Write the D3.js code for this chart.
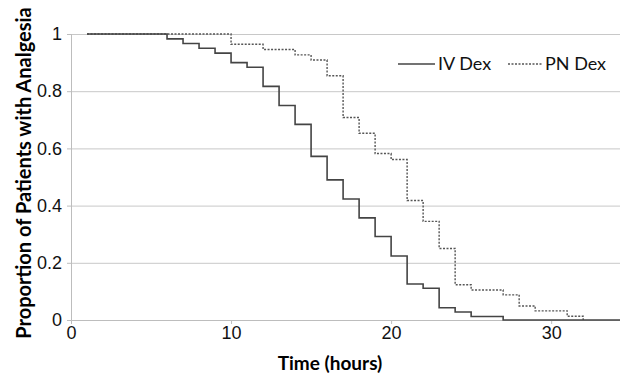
<!DOCTYPE html>
<html>
<head>
<meta charset="utf-8">
<script src="https://cdn.jsdelivr.net/npm/d3@7"></script>
<style>
  body { margin: 0; background: #fff; }
  svg { font-family: Lato, "Open Sans", sans-serif; }
  .grid line { stroke: #c8c8c8; }
  .grid path { display: none; }
  .axis path, .axis line { stroke: #bdbdbd; }
  .axis text { font-size: 18px; fill: #111; }
</style>
</head>
<body>
<div id="chart"></div>
<script>
// Kaplan-Meier style step data
var ivTimes = [1, 6, 7, 8, 9, 10, 11, 12, 13, 14, 15, 16, 17, 18, 19, 20, 21, 22, 23, 24, 25, 27, 34.3];
var ivValues = [1, 0.983, 0.967, 0.95, 0.933, 0.9, 0.884, 0.817, 0.75, 0.684, 0.572, 0.49, 0.423, 0.357, 0.292, 0.224, 0.126, 0.111, 0.043, 0.028, 0.012, 0, 0];
var pnTimes = [1, 10, 12, 14, 15, 16, 17, 18, 19, 20, 21, 22, 23, 24, 25, 27, 28, 29, 31, 32];
var pnValues = [1, 0.964, 0.946, 0.927, 0.909, 0.854, 0.708, 0.653, 0.582, 0.561, 0.418, 0.345, 0.25, 0.123, 0.105, 0.088, 0.049, 0.032, 0.013, 0];
var xTicks = [0, 10, 20, 30];
var yTicks = [0, 0.2, 0.4, 0.6, 0.8, 1];
var seriesNames = ["IV Dex", "PN Dex"];

var width = 620, height = 375;
var margin = { top: 34, right: 0, bottom: 55, left: 71 };

var x = d3.scaleLinear().domain([0, 34.3]).range([margin.left, width - margin.right]);
var y = d3.scaleLinear().domain([0, 1]).range([height - margin.bottom, margin.top]);

var svg = d3.select("#chart").append("svg")
    .attr("width", width)
    .attr("height", height);

// horizontal gridlines
svg.append("g")
    .attr("class", "grid")
    .attr("transform", "translate(" + margin.left + ",0)")
    .call(d3.axisLeft(y).tickValues(yTicks.filter(function (d) { return d > 0; }))
        .tickSize(-(width - margin.left - margin.right)).tickFormat(""));

// y axis
svg.append("g")
    .attr("class", "axis")
    .attr("transform", "translate(" + margin.left + ",0)")
    .call(d3.axisLeft(y).tickValues(yTicks).tickSize(4).tickPadding(5)
        .tickFormat(function (d) { return d === 0 || d === 1 ? d : d3.format(".1f")(d); }));

// x axis
svg.append("g")
    .attr("class", "axis")
    .attr("transform", "translate(0," + y(0) + ")")
    .call(d3.axisBottom(x).tickValues(xTicks).tickSize(4).tickPadding(2).tickFormat(d3.format("d")));

var line = d3.line()
    .curve(d3.curveStepAfter)
    .x(function (d) { return x(d[0]); })
    .y(function (d) { return y(d[1]); });

var pnData = d3.zip(pnTimes, pnValues);
var ivData = d3.zip(ivTimes, ivValues);

svg.append("path")
    .datum(pnData)
    .attr("d", line)
    .attr("fill", "none")
    .attr("stroke", "#555")
    .attr("stroke-width", 1.4)
    .attr("stroke-dasharray", "2,1.5");

svg.append("path")
    .datum(ivData)
    .attr("d", line)
    .attr("fill", "none")
    .attr("stroke", "#444")
    .attr("stroke-width", 1.6);

// axis titles
svg.append("text")
    .attr("x", 330)
    .attr("y", 370)
    .attr("text-anchor", "middle")
    .style("font-size", "19px")
    .style("font-weight", "bold")
    .text("Time (hours)");

svg.append("text")
    .attr("transform", "translate(31," + 173 + ") rotate(-90)")
    .attr("text-anchor", "middle")
    .style("font-size", "20px")
    .style("font-weight", "bold")
    .text("Proportion of Patients with Analgesia");

// legend
var legend = svg.append("g").attr("class", "legend");
var legendX = [398, 508];
var legendLen = [37, 34];
seriesNames.forEach(function (name, i) {
    legend.append("line")
        .attr("x1", legendX[i]).attr("x2", legendX[i] + legendLen[i])
        .attr("y1", 64).attr("y2", 64)
        .attr("stroke", i === 0 ? "#444" : "#555")
        .attr("stroke-width", i === 0 ? 1.6 : 1.4)
        .attr("stroke-dasharray", i === 0 ? null : "2,1.5");
    legend.append("text")
        .attr("x", legendX[i] + legendLen[i] + 3)
        .attr("y", 64)
        .attr("dy", "0.35em")
        .style("font-size", "18px")
        .style("fill", "#111")
        .text(name);
});
</script>
</body>
</html>
